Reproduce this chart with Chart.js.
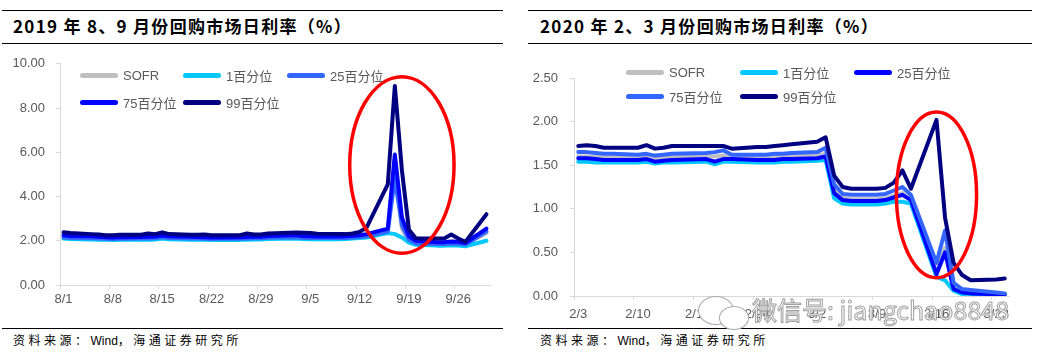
<!DOCTYPE html>
<html><head><meta charset="utf-8">
<script src="https://cdn.jsdelivr.net/npm/chart.js@4.4.1/dist/chart.umd.min.js"></script>
<style>
html,body{margin:0;padding:0;background:#fff;}
body{width:1049px;height:362px;position:relative;overflow:hidden;font-family:"Liberation Sans",Arial,sans-serif;}
.rule{position:absolute;height:1px;background:#000;}
.title{position:absolute;font-family:"Noto Sans CJK SC",sans-serif;font-weight:700;font-size:17px;letter-spacing:1.3px;color:#000;white-space:nowrap;line-height:20px;}
.src{position:absolute;font-family:"Noto Sans CJK SC",sans-serif;font-size:12px;letter-spacing:3.5px;color:#000;white-space:nowrap;line-height:14px;}
.src span{letter-spacing:0;font-family:"Liberation Sans",Arial,sans-serif;}
canvas{position:absolute;}
.leg{position:absolute;display:flex;align-items:center;height:16px;font-size:13px;color:#595959;white-space:nowrap;font-family:"Liberation Sans","Noto Sans CJK SC",sans-serif;}
.leg i{display:inline-block;width:38px;height:5px;border-radius:3px;margin-right:5px;}
.wm{position:absolute;left:752px;top:293px;font-family:"Noto Sans CJK SC",sans-serif;font-size:25px;color:#fff;-webkit-text-stroke:1px #a0a0a0;white-space:nowrap;z-index:5;line-height:32px;}
.bub{position:absolute;border:1.5px solid #a8a8a8;border-radius:50%;background:#fff;z-index:4;}
</style></head>
<body>
<div class="rule" style="left:2px;top:10px;width:501px"></div>
<div class="rule" style="left:2px;top:43px;width:501px"></div>
<div class="rule" style="left:2px;top:328px;width:501px"></div>
<div class="rule" style="left:528px;top:10px;width:504px"></div>
<div class="rule" style="left:528px;top:43px;width:504px"></div>
<div class="rule" style="left:528px;top:328px;width:504px"></div>
<div class="title" style="left:13px;top:16px">2019 年 8、9 月份回购市场日利率（%）</div>
<div class="title" style="left:540px;top:16px">2020 年 2、3 月份回购市场日利率（%）</div>
<div class="src" style="left:13px;top:333px">资料来源：<span>Wind</span>，海通证券研究所</div>
<div class="src" style="left:540px;top:333px">资料来源：<span>Wind</span>，海通证券研究所</div>
<canvas id="c1" width="505" height="280" style="left:0;top:45px"></canvas>
<canvas id="c2" width="510" height="280" style="left:520px;top:45px"></canvas>
<div class="bub" style="left:698px;top:296px;width:34px;height:27px"></div>
<div class="bub" style="left:719px;top:306px;width:28px;height:22px"></div>
<div class="wm">微信号: jiangchao8848</div>
<script>
// ---------- data ----------
const seriesNames = ['SOFR','1百分位','25百分位','75百分位','99百分位'];

const dates2019 = ['8/1','8/2','8/5','8/6','8/7','8/8','8/9','8/12','8/13','8/14','8/15','8/16','8/19','8/20','8/21','8/22','8/23','8/26','8/27','8/28','8/29','8/30','9/3','9/4','9/5','9/6','9/9','9/10','9/11','9/12','9/13','9/16','9/17','9/18','9/19','9/20','9/23','9/24','9/25','9/26','9/27','9/30'];
const sofr2019 = [2.19,2.16,2.14,2.13,2.12,2.11,2.12,2.13,2.13,2.14,2.20,2.15,2.13,2.13,2.12,2.11,2.12,2.12,2.13,2.14,2.14,2.18,2.23,2.17,2.15,2.15,2.15,2.16,2.19,2.20,2.20,2.43,5.25,2.55,1.95,1.86,1.82,1.83,1.85,1.85,1.83,2.35];
const p1_2019 = [2.10,2.08,2.06,2.05,2.04,2.03,2.04,2.05,2.05,2.06,2.10,2.07,2.05,2.05,2.04,2.03,2.04,2.04,2.05,2.06,2.06,2.08,2.10,2.08,2.07,2.07,2.07,2.08,2.10,2.12,2.15,2.35,2.30,2.15,1.92,1.82,1.78,1.78,1.80,1.78,1.75,2.00];
const p25_2019 = [2.15,2.13,2.11,2.10,2.09,2.08,2.09,2.10,2.10,2.11,2.16,2.12,2.10,2.10,2.09,2.08,2.09,2.09,2.10,2.11,2.11,2.14,2.16,2.13,2.12,2.12,2.12,2.13,2.15,2.17,2.20,2.42,4.80,2.70,2.05,1.88,1.85,1.85,1.88,1.87,1.83,2.42];
const p75_2019 = [2.25,2.22,2.20,2.18,2.16,2.15,2.16,2.17,2.18,2.19,2.24,2.20,2.18,2.17,2.16,2.15,2.15,2.16,2.17,2.19,2.18,2.22,2.26,2.22,2.20,2.19,2.19,2.20,2.23,2.25,2.30,2.55,5.90,3.05,2.20,2.00,1.93,1.93,1.97,1.95,1.90,2.55];
const p99_2019 = [2.38,2.35,2.30,2.28,2.25,2.25,2.27,2.27,2.33,2.30,2.38,2.30,2.27,2.27,2.28,2.25,2.25,2.25,2.33,2.28,2.28,2.33,2.37,2.36,2.35,2.32,2.30,2.30,2.33,2.40,2.60,4.55,9.00,5.20,2.50,2.10,2.10,2.10,2.28,2.10,1.95,3.20];
const xTicks2019 = ['8/1','8/8','8/15','8/22','8/29','9/5','9/12','9/19','9/26'];
const yTicks2019 = [0,2,4,6,8,10];

const dates2020 = ['2/3','2/4','2/5','2/6','2/7','2/10','2/11','2/12','2/13','2/14','2/18','2/19','2/20','2/21','2/24','2/25','2/26','2/27','2/28','3/2','3/3','3/4','3/5','3/6','3/9','3/10','3/11','3/12','3/13','3/16','3/17','3/18','3/19','3/20','3/23','3/24'];
const sofr2020 = [1.60,1.60,1.59,1.59,1.59,1.58,1.59,1.58,1.58,1.59,1.60,1.60,1.61,1.59,1.59,1.59,1.60,1.60,1.60,1.61,1.63,1.22,1.12,1.11,1.11,1.12,1.15,1.18,1.11,0.27,0.55,0.10,0.05,0.04,0.02,0.02];
const p1_2020 = [1.54,1.54,1.53,1.53,1.53,1.53,1.54,1.52,1.53,1.53,1.54,1.51,1.54,1.54,1.53,1.53,1.53,1.54,1.54,1.55,1.56,1.12,1.06,1.05,1.05,1.06,1.08,1.08,1.06,0.22,0.18,0.06,0.02,0.01,0.01,0.01];
const p25_2020 = [1.58,1.58,1.57,1.56,1.56,1.56,1.57,1.54,1.55,1.56,1.57,1.54,1.57,1.57,1.56,1.56,1.56,1.57,1.57,1.58,1.60,1.18,1.10,1.09,1.09,1.10,1.13,1.16,1.10,0.25,0.50,0.08,0.04,0.03,0.02,0.02];
const p75_2020 = [1.65,1.65,1.64,1.63,1.63,1.62,1.63,1.61,1.62,1.63,1.64,1.65,1.67,1.62,1.62,1.62,1.63,1.63,1.64,1.65,1.70,1.28,1.17,1.16,1.16,1.17,1.21,1.25,1.16,0.38,0.75,0.15,0.08,0.07,0.04,0.03];
const p99_2020 = [1.72,1.73,1.72,1.70,1.70,1.70,1.73,1.69,1.70,1.72,1.72,1.72,1.72,1.69,1.71,1.71,1.72,1.73,1.74,1.77,1.82,1.38,1.25,1.23,1.23,1.24,1.30,1.44,1.23,2.02,0.90,0.38,0.24,0.18,0.19,0.20];
const xTicks2020 = ['2/3','2/10','2/17','2/24','3/2','3/9','3/16','3/23'];
const yTicks2020 = [0,0.5,1,1.5,2,2.5];

// ---------- styles ----------
const colors2019 = ['#bfbfbf','#00c8ff','#3366ff','#0000ff','#000080'];
const colors2020 = ['#bfbfbf','#00c8ff','#0000ff','#3366ff','#000080'];

Chart.defaults.font.family = '"Liberation Sans", Arial, sans-serif';
Chart.defaults.font.size = 13;
Chart.defaults.color = '#595959';

const ringPlugin = {
  id: 'ring',
  afterDatasetsDraw(chart, args, o) {
    if (!o || o.center === undefined) return;
    const x = chart.scales.x, y = chart.scales.y, ctx = chart.ctx;
    const cx = x.getPixelForValue(o.center);
    const rx = Math.abs(x.getPixelForValue(o.center + o.half) - cx);
    const t = y.getPixelForValue(o.top), b = y.getPixelForValue(o.bottom);
    ctx.save();
    ctx.beginPath();
    ctx.ellipse(cx, (t + b) / 2, rx, (b - t) / 2, 0, 0, Math.PI * 2);
    ctx.strokeStyle = '#ff0000';
    ctx.lineWidth = 3.5;
    ctx.stroke();
    ctx.restore();
  }
};

function makeChart(id, year, dates, series, colors, xTicks, yTicks, L) {
  const [m0, d0] = dates[0].split('/').map(Number);
  const start = Date.UTC(year, m0 - 1, d0);
  const off = s => { const [m, d] = s.split('/').map(Number); return (Date.UTC(year, m - 1, d) - start) / 864e5; };
  const lastDay = off(dates[dates.length - 1]) + 1;
  const datasets = series.map((vals, k) => ({
    label: seriesNames[k],
    data: vals.map((v, i) => ({ x: off(dates[i]) + 0.5, y: v })),
    borderColor: colors[k], backgroundColor: colors[k],
    borderWidth: 4, pointRadius: 0, tension: 0,
    borderCapStyle: 'round', borderJoinStyle: 'round',
    order: 4 - k, fill: false
  }));
  const tickMap = {};
  xTicks.forEach(s => { tickMap[off(s)] = s; });
  return new Chart(document.getElementById(id), {
    type: 'line',
    data: { datasets },
    options: {
      responsive: false, animation: false, devicePixelRatio: 1,
      layout: { padding: { top: L.padTop, right: L.padRight, left: 0, bottom: 0 } },
      plugins: { legend: { display: false }, tooltip: { enabled: false },
        ring: { center: off(L.ringDate) + 0.5, half: L.ringHalf, top: L.ringTop, bottom: L.ringBottom } },
      scales: {
        x: {
          type: 'linear', min: 0, max: lastDay,
          afterFit: s => { s.height = L.xH; },
          afterBuildTicks: s => { s.ticks = xTicks.map(t => ({ value: off(t) })); },
          grid: { drawOnChartArea: false, tickLength: 4, color: '#d9d9d9' },
          border: { color: '#d9d9d9' },
          ticks: { autoSkip: false, maxRotation: 0, labelOffset: L.labelOffset, padding: L.xPad,
            callback: v => tickMap[v] }
        },
        y: {
          min: yTicks[0], max: yTicks[yTicks.length - 1],
          afterFit: s => { s.width = L.yW; },
          afterBuildTicks: s => { s.ticks = yTicks.map(v => ({ value: v })); },
          grid: { drawOnChartArea: false, tickLength: 4, color: '#d9d9d9' },
          border: { color: '#d9d9d9' },
          ticks: { padding: L.yPad, callback: v => Number(v).toFixed(2) }
        }
      }
    },
    plugins: [ringPlugin]
  });
}

function makeLegend(colors, cols, rows, offX) {
  const pos = [[0,0],[0,1],[0,2],[1,0],[1,1]];
  seriesNames.forEach((n, k) => {
    const d = document.createElement('div');
    d.className = 'leg';
    d.style.left = (offX + cols[pos[k][1]]) + 'px';
    d.style.top = (rows[pos[k][0]] - 8) + 'px';
    const i = document.createElement('i');
    i.style.background = colors[k];
    d.appendChild(i);
    d.appendChild(document.createTextNode(n));
    document.body.appendChild(d);
  });
}

makeChart('c1', 2019, dates2019, [sofr2019, p1_2019, p25_2019, p75_2019, p99_2019], colors2019, xTicks2019, yTicks2019,
  { padTop: 17, padRight: 15, xH: 40, yW: 60, yPad: 11, xPad: 3, labelOffset: 3.5,
    ringDate: '9/18', ringHalf: 7.4, ringTop: 9.42, ringBottom: 1.43 });
makeChart('c2', 2020, dates2020, [sofr2020, p1_2020, p25_2020, p75_2020, p99_2020], colors2020, xTicks2020, yTicks2020,
  { padTop: 33, padRight: 21, xH: 29, yW: 54, yPad: 12, xPad: 7, labelOffset: 4.3,
    ringDate: '3/16', ringHalf: 4.7, ringTop: 2.11, ringBottom: 0.21 });

makeLegend(colors2019, [80, 183, 287], [75, 102], 0);
makeLegend(colors2020, [106, 220, 334], [72, 96], 520);
</script>
</body></html>
